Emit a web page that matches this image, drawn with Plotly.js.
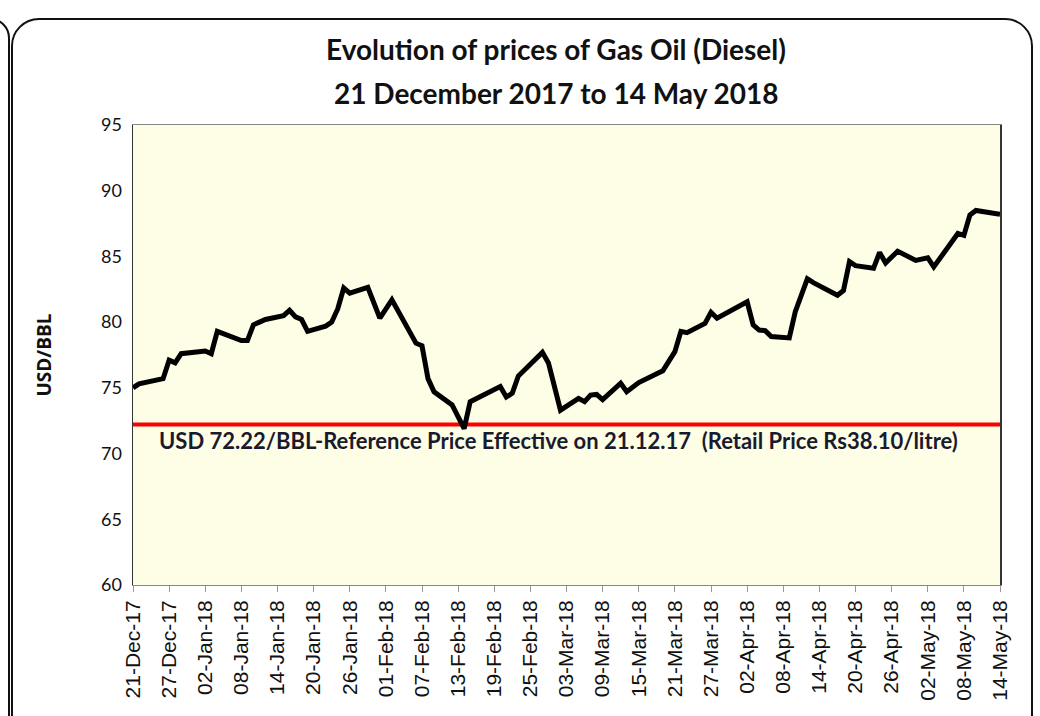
<!DOCTYPE html>
<html>
<head>
<meta charset="utf-8">
<script src="https://cdn.plot.ly/plotly-3.0.1.min.js"></script>
<style>
html,body{margin:0;padding:0;background:#fff;}
#wrap{position:relative;width:1040px;height:716px;overflow:hidden;}
#chart{position:absolute;left:0;top:0;width:1040px;height:716px;}
#frame{position:absolute;left:11px;top:18px;width:1018px;height:740px;border:2px solid #111;border-radius:28px;pointer-events:none;}
#frame2{position:absolute;left:-30px;top:18px;width:36px;height:740px;border:2px solid #111;border-radius:26px;pointer-events:none;}
</style>
</head>
<body>
<div id="wrap">
<div id="chart"></div>
<div id="frame"></div>
<div id="frame2"></div>
</div>
<script>
const dates = [
 "2017-12-21","2017-12-22","2017-12-26","2017-12-27","2017-12-28","2017-12-29",
 "2018-01-02","2018-01-03","2018-01-04","2018-01-08","2018-01-09","2018-01-10","2018-01-11","2018-01-12",
 "2018-01-15","2018-01-16","2018-01-17","2018-01-18","2018-01-19","2018-01-22","2018-01-23","2018-01-24",
 "2018-01-25","2018-01-26","2018-01-29","2018-01-31","2018-02-02","2018-02-06","2018-02-07","2018-02-08",
 "2018-02-09","2018-02-12","2018-02-14","2018-02-15","2018-02-20","2018-02-21","2018-02-22","2018-02-23",
 "2018-02-27","2018-02-28","2018-03-02","2018-03-05","2018-03-06","2018-03-07","2018-03-08","2018-03-09",
 "2018-03-12","2018-03-13","2018-03-15","2018-03-16","2018-03-19","2018-03-21","2018-03-22","2018-03-23",
 "2018-03-26","2018-03-27","2018-03-28","2018-04-02","2018-04-03","2018-04-04","2018-04-05","2018-04-06",
 "2018-04-09","2018-04-10","2018-04-11","2018-04-12","2018-04-13","2018-04-16","2018-04-17","2018-04-18",
 "2018-04-19","2018-04-20","2018-04-23","2018-04-24","2018-04-25","2018-04-27","2018-04-30","2018-05-02",
 "2018-05-03","2018-05-07","2018-05-08","2018-05-09","2018-05-10","2018-05-14"
];
const prices = [
 75.0,75.3,75.7,77.1,76.9,77.6,
 77.8,77.6,79.3,78.6,78.6,79.8,80.0,80.2,
 80.5,80.9,80.4,80.2,79.3,79.7,80.0,81.0,
 82.6,82.2,82.65,80.3,81.7,78.4,78.2,75.7,
 74.7,73.7,71.9,73.95,75.1,74.3,74.6,75.9,
 77.7,76.9,73.3,74.2,73.95,74.45,74.5,74.1,
 75.35,74.7,75.4,75.6,76.3,77.75,79.3,79.2,
 79.9,80.75,80.3,81.55,79.8,79.4,79.35,78.9,
 78.8,80.8,82.2,83.3,83.0,82.3,82.05,82.4,
 84.6,84.3,84.1,85.3,84.5,85.4,84.7,84.9,
 84.2,86.75,86.6,88.15,88.5,88.2
];
const refPrice = 72.22;
const refDates = ["2017-12-21","2018-05-14"];
const refLabel = "USD 72.22/BBL-Reference Price Effective on 21.12.17  (Retail Price Rs38.10/litre)";
const titleLines = ["Evolution of prices of Gas Oil (Diesel)","21 December 2017 to 14 May 2018"];
const yTitle = "USD/BBL";

const traces = [
 {x: refDates, y: [refPrice, refPrice], mode: "lines", line: {color: "#ff0000", width: 4}, hoverinfo: "skip"},
 {x: dates, y: prices, mode: "lines", line: {color: "#000000", width: 5}}
];

const tfont = {family: "Lato, 'Open Sans', sans-serif", size: 28, color: "#111"};
const layout = {
 width: 1040, height: 716,
 margin: {l: 133, r: 40, t: 125, b: 131},
 paper_bgcolor: "rgba(0,0,0,0)",
 plot_bgcolor: "#fefee6",
 showlegend: false,
 font: {family: "Lato, 'Open Sans', sans-serif", color: "#111"},
 title: {
  text: "<b>" + titleLines[0] + "</b>",
  font: tfont,
  x: 556/1040, xanchor: "center", y: 1 - 50/716, yanchor: "middle"
 },
 xaxis: {
  type: "date",
  range: ["2017-12-21", "2018-05-14"],
  tick0: "2017-12-21", dtick: 6 * 86400000,
  tickformat: "%d-%b-%y",
  tickangle: -90,
  ticks: "outside", ticklen: 6, tickcolor: "#999",
  tickfont: {family: "'Liberation Sans', Arial, sans-serif", size: 21, color: "#111"},
  showgrid: false, zeroline: false,
  showline: true, linecolor: "#888", linewidth: 1, mirror: true
 },
 yaxis: {
  range: [60, 95], dtick: 5, tick0: 60,
  ticks: "", showgrid: false, zeroline: false,
  showline: true, linecolor: "#333", linewidth: 1.5, mirror: true,
  tickfont: {family: "Lato, 'Open Sans', sans-serif", size: 18, color: "#111"},
  ticklabelstandoff: 6,
  title: {text: "<b>" + yTitle + "</b>", font: {family: "'Open Sans', Lato, sans-serif", size: 19, color: "#111"}, standoff: 44}
 },
 annotations: [
  {x: (556 - 133)/867, y: 1 + (125 - 93)/460, xref: "paper", yref: "paper", xanchor: "center", yanchor: "middle",
   text: "<b>" + titleLines[1] + "</b>", showarrow: false, font: tfont},
  {x: "2017-12-25", y: refPrice, xref: "x", yref: "y", xanchor: "left", yanchor: "top", yshift: -1,
   text: "<b>" + refLabel + "</b>", showarrow: false,
   font: {family: "Lato, 'Open Sans', sans-serif", size: 22, color: "#1a1a2e"}}
 ]
};
Plotly.newPlot("chart", traces, layout, {displayModeBar: false, staticPlot: true});
</script>
</body>
</html>
